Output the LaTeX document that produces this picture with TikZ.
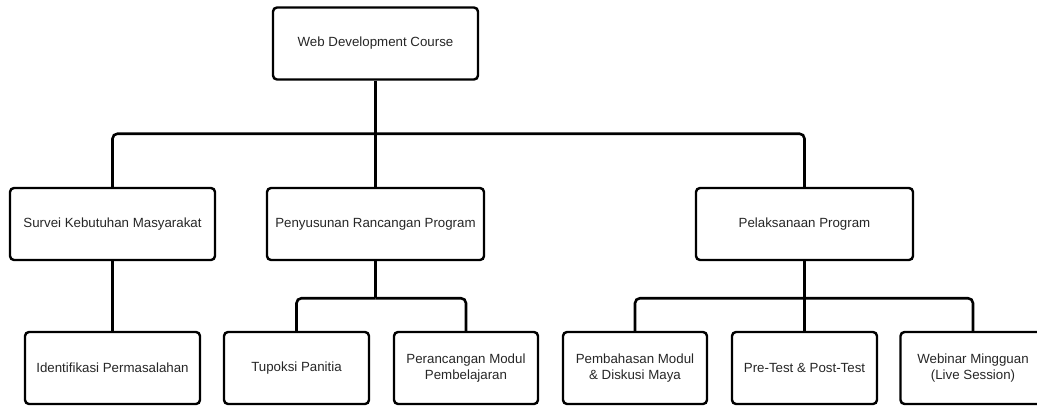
\documentclass[tikz,border=0pt]{standalone}
\usepackage{fontspec}
\setmainfont{Liberation Sans}
\usetikzlibrary{positioning}

\tikzset{box/.style = {draw, line width = 2.4pt, rounded corners = 4pt, align = center,
                       minimum height = 72pt, inner sep = 2pt,
                       font = \fontsize{13.3}{16}\selectfont, text = black!85},
         link/.style = {draw, line width = 2.6pt, rounded corners = 5pt}}

\begin{document}
\begin{tikzpicture}% 
    [x = 1pt, y = -1pt]
    \useasboundingbox (0,0) rectangle (1037,405);
    \clip (0,0) rectangle (1037,405);

    \node [box, minimum width = 205pt] (course) at (375.5, 43.5) {Web Development Course};

    \node [box, minimum width = 205pt] (survei)      at (112.5, 224) {Survei Kebutuhan Masyarakat};
    \node [box, minimum width = 217pt] (penyusunan)  at (375.5, 224) {Penyusunan Rancangan Program};
    \node [box, minimum width = 217pt] (pelaksanaan) at (804.5, 224) {Pelaksanaan Program};

    \node [box, minimum width = 175pt] (identifikasi) at (112.5, 368) {Identifikasi Permasalahan};
    \node [box, minimum width = 145pt] (tupoksi)      at (296.5, 368) {Tupoksi Panitia};
    \node [box, minimum width = 144pt] (perancangan)  at (466, 368)   {Perancangan Modul\\Pembelajaran};
    \node [box, minimum width = 144pt] (pembahasan)   at (635, 368)   {Pembahasan Modul\\\& Diskusi Maya};
    \node [box, minimum width = 145pt] (pretest)      at (804.5, 368) {Pre-Test \& Post-Test};
    \node [box, minimum width = 145pt] (webinar)      at (973, 368)   {Webinar Mingguan\\(Live Session)};

    % top level
    \draw [link] (course.south) -- ++(0,53) coordinate (hub);
    \draw [link] (hub) -| (survei.north);
    \draw [link] (hub) -| (pelaksanaan.north);
    \draw [link] (hub) -- (penyusunan.north);

    % second level
    \draw [link] (survei.south) -- (identifikasi.north);

    \draw [link] (penyusunan.south) -- ++(0,37) coordinate (hubA);
    \draw [link] (hubA) -| (tupoksi.north);
    \draw [link] (hubA) -| (perancangan.north);

    \draw [link] (pelaksanaan.south) -- ++(0,37) coordinate (hubB);
    \draw [link] (hubB) -| (pembahasan.north);
    \draw [link] (hubB) -| (webinar.north);
    \draw [link] (hubB) -- (pretest.north);
\end{tikzpicture}
\end{document}
